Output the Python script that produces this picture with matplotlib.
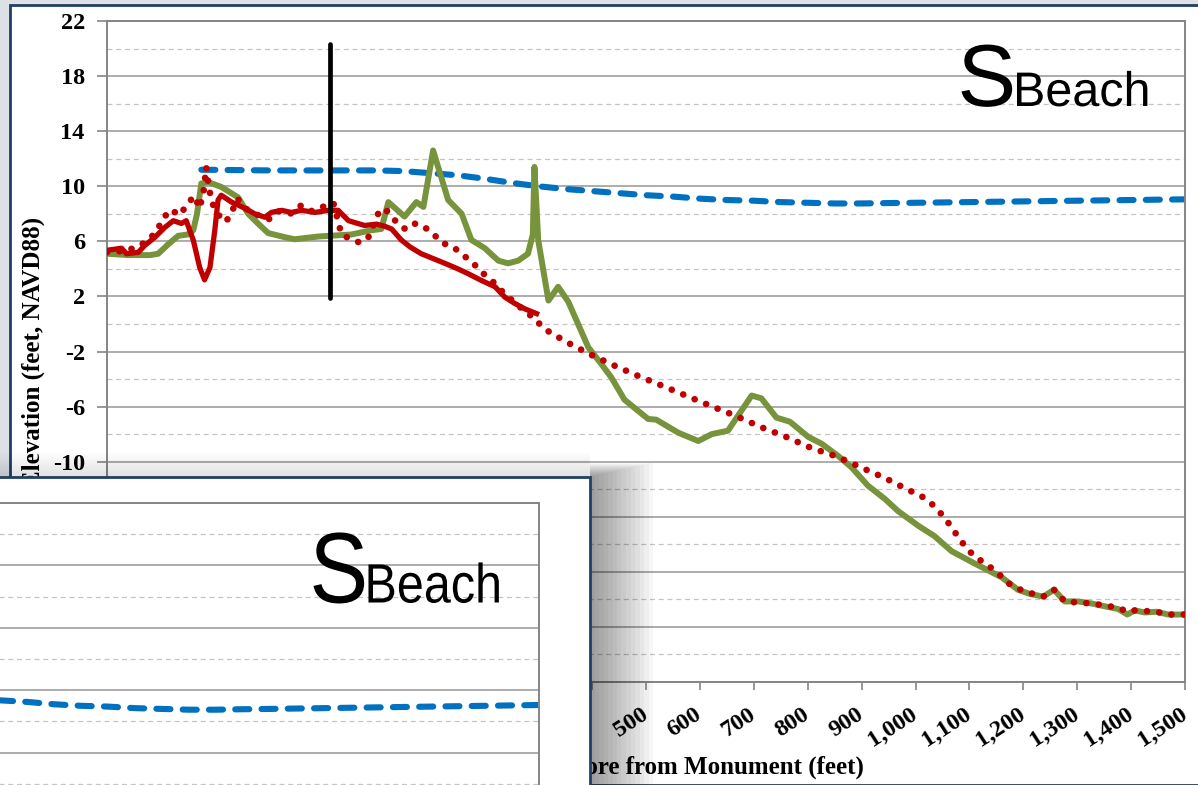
import matplotlib
matplotlib.use("Agg")
import matplotlib.pyplot as plt
from matplotlib.patches import Rectangle, PathPatch
from matplotlib.textpath import TextPath
from matplotlib.font_manager import FontProperties
from matplotlib.transforms import Affine2D
from matplotlib.ticker import FuncFormatter

W, H = 1198, 785
plt.rcParams['axes.unicode_minus'] = False

# --- profile data (distance offshore in ft, elevation in ft NAVD88) ---
design_x = [-325, -200, -100, 0, 50, 100, 150, 200, 250, 300, 350, 400, 450, 500,
            550, 600, 650, 700, 750, 800, 850, 900, 950, 1000, 1100, 1200, 1300,
            1400, 1500]
design_y = [11.2, 11.15, 11.15, 11.15, 11.1, 10.95, 10.8, 10.55, 10.25, 10.0, 9.8,
            9.65, 9.5, 9.35, 9.25, 9.1, 9.0, 8.95, 8.85, 8.8, 8.75, 8.75, 8.78, 8.8,
            8.85, 8.9, 8.95, 9.0, 9.05]

post_x = [-500, -460, -420, -405, -386, -368, -350, -340, -333, -325, -312, -288,
          -257, -238, -220, -201, -170, -152, -108, -46, -10, 9, 22, 52, 74, 87,
          105, 133, 158, 176, 201, 226, 244, 263, 281, 290, 293, 300, 319, 337, 356,
          393, 417, 436, 460, 504, 519, 560, 597, 622, 652, 677, 696, 714, 742, 767,
          801, 826, 857, 881, 912, 943, 968, 1005, 1035, 1067, 1110, 1160, 1190,
          1212, 1237, 1257, 1277, 1302, 1327, 1351, 1376, 1393, 1407, 1425, 1447,
          1469, 1500]
post_y = [5.1, 5.0, 5.0, 5.1, 5.8, 6.4, 6.5, 6.8, 8.0, 10.2, 10.3, 9.95, 9.2, 8.0,
          7.3, 6.6, 6.3, 6.15, 6.35, 6.5, 6.8, 6.9, 8.85, 7.8, 8.85, 8.5, 12.6, 9.0,
          8.0, 6.1, 5.5, 4.6, 4.4, 4.6, 5.1, 6.5, 11.4, 6.1, 1.7, 2.7, 1.6, -1.7,
          -2.9, -3.9, -5.5, -6.9, -6.95, -7.9, -8.5, -8.0, -7.75, -6.3, -5.2, -5.4,
          -6.8, -7.1, -8.2, -8.7, -9.6, -10.4, -11.75, -12.7, -13.6, -14.65, -15.4,
          -16.5, -17.4, -18.4, -19.3, -19.6, -19.8, -19.3, -20.15, -20.15, -20.3,
          -20.5, -20.7, -21.1, -20.8, -20.95, -20.9, -21.1, -21.1]

pre_x = [-500, -473, -464, -442, -430, -411, -393, -377, -362, -353, -340, -328,
         -319, -309, -300, -294, -288, -269, -244, -226, -207, -195, -176, -158,
         -139, -114, -89, -71, -52, -22, 0, 15, 28, 46, 62, 83, 105, 127, 151, 170,
         195, 220, 238, 256, 275, 297]
pre_y = [5.35, 5.5, 5.1, 5.2, 5.7, 6.3, 7.0, 7.5, 7.3, 7.5, 6.1, 4.1, 3.2, 4.1, 6.8,
         9.0, 9.35, 8.85, 8.4, 8.0, 7.75, 8.1, 8.25, 8.1, 8.25, 8.1, 8.25, 8.25,
         7.5, 7.15, 7.25, 7.1, 6.9, 6.1, 5.6, 5.1, 4.75, 4.4, 4.0, 3.65, 3.15, 2.7,
         1.95, 1.5, 1.1, 0.75]

model_x = [-500, -470, -450, -430, -410, -395, -382, -365, -351, -338, -328, -320,
           -316, -311, -305, -295, -281, -272, -258, -240, -220, -200, -180, -160,
           -140, -120, -100, -80, -65, -45, -30, -15, 3, 15, 37, 53, 68, 83, 104,
           121, 142, 164, 182, 200, 218, 237, 255, 273, 293, 311, 352, 396, 440, 484,
           531, 577, 623, 668, 714, 760, 806, 852, 898, 944, 989, 1011, 1031, 1048,
           1064, 1078, 1093, 1110, 1130, 1150, 1175, 1200, 1237, 1257, 1277, 1327,
           1376, 1393, 1407, 1447, 1469, 1500]
model_y = [5.2, 5.3, 5.5, 5.9, 6.6, 7.7, 8.3, 7.9, 8.7, 9.3, 8.4, 9.8, 11.4, 9.9,
           8.8, 8.0, 7.4, 7.8, 9.1, 8.3, 7.9, 7.6, 8.2, 8.0, 8.6, 8.2, 8.5, 8.8, 6.5,
           6.1, 5.9, 6.3, 8.0, 8.4, 7.4, 6.9, 7.3, 7.2, 6.6, 5.9, 5.6, 4.9, 4.3, 3.6,
           3.0, 2.2, 1.6, 1.0, 0.4, -0.35, -1.3, -2.2, -3.0, -3.75, -4.5, -5.25,
           -6.0, -6.7, -7.5, -8.2, -9.0, -9.6, -10.4, -11.2, -12.1, -12.5, -13.1,
           -13.8, -14.6, -15.4, -16.2, -16.9, -17.4, -18.0, -18.9, -19.4, -19.8,
           -19.3, -20.15, -20.3, -20.6, -20.9, -20.8, -20.9, -21.1, -21.1]

monument_x = -87
monument_y = [1.9, 20.3]

x_ticks = list(range(-500, 1501, 100))
y_major = list(range(-26, 23, 4))
y_minor = list(range(-24, 21, 4))

NAVY = '#1f3f66'
SERIF = 'Liberation Serif'


def px_box(left, top, right, bottom):
    return [left / W, 1 - bottom / H, (right - left) / W, (bottom - top) / H]


def draw_profiles(ax):
    ax.set_xlim(-500, 1500)
    ax.set_ylim(-26, 22)
    ax.set_axisbelow(True)
    ax.set_yticks(y_major)
    ax.set_yticks(y_minor, minor=True)
    ax.set_xticks(x_ticks)
    ax.grid(True, which='major', axis='y', color='#a6a6a6', lw=1.3)
    ax.grid(True, which='minor', axis='y', color='#c4c4c4', lw=0.9,
            linestyle=(0, (4, 3)))
    ax.plot(design_x, design_y, color='#0070c0', lw=4.4,
            linestyle=(0, (2.3, 2.0)), dash_capstyle='round', zorder=2)
    ax.plot(post_x, post_y, color='#77933c', lw=4.3, solid_joinstyle='round',
            zorder=3)
    ax.plot(pre_x, pre_y, color='#c00000', lw=3.8, solid_joinstyle='round',
            zorder=4)
    ax.plot(model_x, model_y, color='#c00000', lw=4.8,
            linestyle=(0, (0.01, 1.85)), dash_capstyle='round', zorder=5)
    ax.plot([monument_x, monument_x], monument_y, color='black', lw=3.4,
            solid_capstyle='round', zorder=6)
    for side in ['top', 'right', 'left', 'bottom']:
        ax.spines[side].set_color('#858585')
        ax.spines[side].set_linewidth(1.4)


def stretched_text(s, x, baseline, em, sy, z):
    tp = TextPath((0, 0), s, size=em, prop=FontProperties(family='Liberation Sans'))
    tr = Affine2D().scale(1, sy).translate(x, H - baseline)
    fig.add_artist(PathPatch(tp, transform=tr, facecolor='black',
                             edgecolor='none', zorder=z))


fig = plt.figure(figsize=(W / 100, H / 100), dpi=100)
fig.patch.set_facecolor('#dde1e6')

# main slide panel
fig.add_artist(Rectangle((10 / W, 0), 1.1, 1 - 5 / H, transform=fig.transFigure,
                         facecolor='white', edgecolor=NAVY, lw=2, zorder=-2))

# main chart
ax = fig.add_axes(px_box(107, 21, 1185, 682))
draw_profiles(ax)
ax.tick_params(axis='y', which='major', length=7, width=1.2, color='#858585',
               pad=9, labelsize=17.5)
ax.tick_params(axis='y', which='minor', length=0)
ax.tick_params(axis='x', length=6, width=1.2, color='#858585', pad=16,
               labelsize=17.5)
ax.xaxis.set_major_formatter(FuncFormatter(lambda v, p: f"{int(v):,}"))
for lab in ax.get_yticklabels():
    lab.set_fontfamily(SERIF)
    lab.set_fontweight('bold')
for lab in ax.get_xticklabels():
    lab.set_fontfamily(SERIF)
    lab.set_fontweight('bold')
    lab.set_rotation(33)
    lab.set_ha('right')
    lab.set_va('center')
    lab.set_rotation_mode('anchor')
ax.set_xlabel('Distance Offshore from Monument (feet)', fontsize=18,
              fontweight='bold', family=SERIF, va='center')
ax.xaxis.set_label_coords(0.5, (682 - 767) / 661)
ax.set_ylabel('Elevation (feet, NAVD88)', fontsize=18, fontweight='bold',
              family=SERIF, va='center')
ax.yaxis.set_label_coords((33 - 107) / 1078, 0.5)

stretched_text('S', 957.5, 106, 88, 1.0, 1)
stretched_text('Beach', 1013, 106, 48.5, 1.0, 1)

# soft drop shadow of the overlaid inset
for k in range(1, 15):
    fig.add_artist(Rectangle((590 / W, 0), 4.5 * k / W, 1 - (477 - k) / H,
                             transform=fig.transFigure, facecolor='black',
                             edgecolor='none', alpha=0.03, zorder=2))
for k in range(1, 11):
    fig.add_artist(Rectangle((0, 1 - 477 / H), 590 / W, 2.4 * k / H,
                             transform=fig.transFigure, facecolor='black',
                             edgecolor='none', alpha=0.012, zorder=2))

# inset panel (enlarged copy of the chart)
fig.add_artist(Rectangle((-10 / W, -0.1), 600 / W, 0.1 + 1 - 477 / H,
                         transform=fig.transFigure, facecolor='white',
                         edgecolor=NAVY, lw=2, zorder=3))
ax2 = fig.add_axes(px_box(-539, 503, 539, 503 + 48 * 15.6))
ax2.set_zorder(4)
draw_profiles(ax2)
ax2.tick_params(which='both', length=0, labelleft=False, labelbottom=False)

stretched_text('S', 309.5, 602.5, 88, 1.14, 5)
stretched_text('Beach', 364.5, 602.5, 48.5, 1.14, 5)

fig.savefig('out.png', dpi=100, facecolor=fig.get_facecolor())
